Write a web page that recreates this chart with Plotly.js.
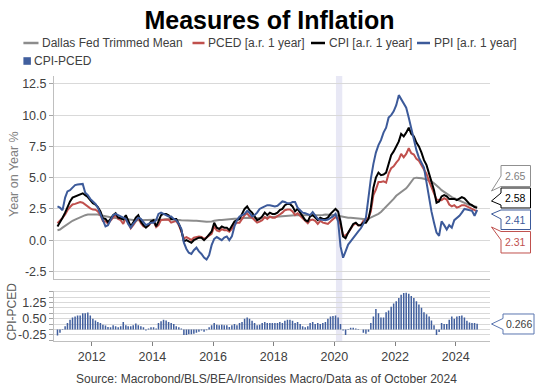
<!DOCTYPE html>
<html>
<head>
<meta charset="utf-8">
<script src="https://cdn.plot.ly/plotly-3.0.1.min.js"></script>
<style>
html,body{margin:0;padding:0;background:#ffffff;}
#chart{width:539px;height:386px;}
</style>
</head>
<body>
<div id="chart"></div>
<script>
// ---------------- DATA (monthly, Nov 2010 .. Sep 2024) ----------------
const firstYear = 2010;
const firstMonth = 11; // November

const dallas = [
  0.8, 0.85,
  1.0, 1.15, 1.25, 1.4, 1.55, 1.65, 1.75, 1.85, 1.95, 2.0, 2.05, 2.05,
  2.08, 2.08, 2.05, 2.0, 1.95, 1.9, 1.85, 1.82, 1.8, 1.78, 1.75, 1.72,
  1.7, 1.68, 1.65, 1.62, 1.6, 1.6, 1.6, 1.6, 1.6, 1.6, 1.6, 1.6,
  1.6, 1.6, 1.62, 1.65, 1.65, 1.68, 1.68, 1.65, 1.65, 1.65, 1.62, 1.6,
  1.58, 1.58, 1.56, 1.56, 1.55, 1.55, 1.55, 1.52, 1.5, 1.48, 1.48, 1.5,
  1.55, 1.6, 1.62, 1.62, 1.65, 1.65, 1.68, 1.7, 1.72, 1.72, 1.75, 1.75,
  1.78, 1.8, 1.78, 1.75, 1.75, 1.75, 1.78, 1.8, 1.82, 1.82, 1.85, 1.85,
  1.88, 1.9, 1.92, 1.92, 1.95, 1.98, 2.0, 2.0, 2.0, 2.0, 2.0, 2.0,
  1.98, 1.98, 1.98, 2.0, 2.0, 2.0, 2.02, 2.02, 2.05, 2.05, 2.05, 2.05,
  2.0, 1.95, 1.9, 1.85, 1.85, 1.8, 1.8, 1.78, 1.75, 1.72, 1.7, 1.68,
  1.68, 1.72, 1.8, 1.9, 2.0, 2.1, 2.25, 2.45, 2.65, 2.9, 3.1, 3.3,
  3.55, 3.7, 3.85, 3.95, 4.15, 4.4, 4.7, 4.95, 5.0, 5.0, 4.95, 4.9,
  4.85, 4.8, 4.7, 4.55, 4.4, 4.2, 4.0, 3.85, 3.7, 3.55, 3.45, 3.35,
  3.25, 3.15, 3.05, 3.0, 2.9, 2.8, 2.75, 2.7, 2.65
];

const pced = [
  1.35, 1.55,
  1.78, 2.05, 2.4, 2.65, 2.85, 2.9, 2.95, 3.05, 3.0, 2.85, 2.67, 2.55,
  2.45, 2.43, 2.3, 2.0, 1.53, 1.52, 1.33, 1.6, 1.8, 2.0, 1.7, 1.6,
  1.3, 1.8, 1.35, 0.95, 1.2, 1.52, 1.8, 1.35, 1.1, 1.05, 1.15, 1.4,
  1.5, 1.05, 1.2, 1.62, 1.65, 1.68, 1.65, 1.4, 1.45, 1.55, 1.2, 0.75,
  0.15, 0.25, 0.12, 0.02, 0.2, 0.25, 0.3, 0.25, 0.1, 0.23, 0.4, 0.5,
  1.1, 0.78, 0.7, 0.88, 0.8, 0.8, 0.68, 0.9, 1.25, 1.4, 1.4, 1.75,
  2.0, 2.15, 1.9, 1.8, 1.6, 1.4, 1.48, 1.6, 1.85, 1.7, 1.9, 1.8,
  1.8, 1.9, 2.05, 2.2, 2.4, 2.45, 2.45, 2.3, 2.0, 2.15, 1.95, 1.75,
  1.5, 1.35, 1.6, 1.65, 1.55, 1.3, 1.55, 1.4, 1.35, 1.3, 1.5, 1.68,
  1.85, 1.75, 1.25, 0.35, 0.4, 0.58, 0.92, 1.22, 1.35, 1.18, 1.2, 1.55,
  1.6, 1.8, 2.3, 3.6, 4.05, 4.65, 4.65, 4.7, 4.6, 5.32, 5.75, 5.9,
  6.2, 6.45, 6.9, 6.62, 6.9, 7.35, 6.95, 6.85, 6.5, 6.35, 6.0, 5.6,
  5.3, 4.7, 4.28, 3.8, 3.25, 3.22, 3.2, 3.35, 3.25, 2.85, 2.7, 2.8,
  2.6, 2.68, 2.8, 2.8, 2.7, 2.58, 2.5, 2.35, 2.31
];

const cpi = [
  1.1, 1.4,
  1.8, 2.2, 2.7, 3.1, 3.4, 3.5, 3.6, 3.7, 3.75, 3.6, 3.45, 3.2,
  2.95, 2.85, 2.65, 2.3, 1.75, 1.7, 1.45, 1.7, 2.0, 2.15, 1.8, 1.75,
  1.65, 2.0, 1.5, 1.1, 1.4, 1.8, 2.0, 1.5, 1.2, 1.0, 1.2, 1.5,
  1.6, 1.1, 1.5, 2.0, 2.1, 2.1, 2.0, 1.7, 1.7, 1.7, 1.3, 0.8,
  -0.1, 0.0, -0.1, -0.2, 0.0, 0.1, 0.2, 0.2, 0.0, 0.2, 0.5, 0.7,
  1.4, 1.0, 0.9, 1.1, 1.0, 1.0, 0.8, 1.1, 1.5, 1.6, 1.7, 2.1,
  2.5, 2.7, 2.4, 2.2, 1.9, 1.6, 1.7, 1.9, 2.2, 2.0, 2.2, 2.1,
  2.1, 2.2, 2.4, 2.5, 2.8, 2.9, 2.9, 2.7, 2.3, 2.5, 2.2, 1.9,
  1.6, 1.5, 1.9, 2.0, 1.8, 1.6, 1.8, 1.7, 1.7, 1.8, 2.1, 2.3,
  2.5, 2.3, 1.5, 0.3, 0.15, 0.6, 1.0, 1.3, 1.4, 1.2, 1.2, 1.4,
  1.4, 1.7, 2.6, 4.2, 5.0, 5.4, 5.2, 5.25, 5.4, 6.2, 6.8, 7.1,
  7.5, 7.9, 8.5, 8.3, 8.6, 9.0, 8.5, 8.3, 7.8, 7.5, 7.0, 6.4,
  6.0, 5.3, 4.7, 4.0, 3.0, 3.1, 3.5, 3.6, 3.5, 3.3, 3.3, 3.3,
  3.2, 3.3, 3.45, 3.35, 3.1, 2.9, 2.8, 2.65, 2.58
];

const ppi = [
  2.7, 2.6,
  2.4, 3.4, 3.9, 4.0, 4.2, 4.4, 4.45, 4.45, 4.5, 3.8, 3.6, 3.3,
  3.1, 2.9, 2.6, 2.0, 1.6, 1.1, 1.2, 1.6, 2.0, 2.1, 2.0, 1.9,
  1.8, 1.7, 1.3, 1.0, 1.3, 1.6, 1.8, 1.7, 1.4, 1.2, 1.3, 1.4,
  1.4, 1.6, 2.1, 2.2, 2.1, 2.0, 1.9, 1.9, 1.7, 1.6, 1.3, 0.9,
  -0.2, -0.7, -1.0, -1.1, -0.8, -0.6, -0.9, -1.1, -1.4, -1.55, -1.2, -0.4,
  0.1, 0.25, 0.15, 0.0, 0.2, 0.3, 0.0, 0.3, 1.1, 1.6, 1.9, 2.0,
  2.1, 2.35, 2.2, 1.9, 2.0, 2.2, 2.5, 2.6, 2.7, 2.8, 2.8, 2.75,
  2.7, 2.75, 2.9, 3.1, 3.05, 2.95, 2.95, 3.05, 3.05, 2.6, 2.4, 2.2,
  2.15, 2.05, 2.0, 2.25, 2.0, 1.7, 1.65, 1.6, 1.6, 1.65, 1.75, 1.9,
  2.1, 1.5, -0.5, -1.4, -0.9, -0.35, -0.1, 0.2, 0.4, 0.7, 0.95, 1.3,
  1.8, 3.5, 4.9, 6.1, 7.0, 7.6, 8.0, 8.6, 9.0, 9.8, 10.0, 10.3,
  10.8, 11.6, 11.3, 11.0, 10.6, 9.8, 8.9, 8.2, 7.2, 6.6, 6.2, 5.8,
  4.6, 3.2, 2.3, 1.4, 0.6, 0.35, 1.5, 1.2, 0.85, 1.2, 1.0, 1.6,
  1.75, 1.95, 2.2, 2.5, 2.45, 2.4, 2.35, 1.95, 2.41
];

const cpiPced = [
  -0.28, -0.15,
  0.02, 0.15, 0.3, 0.45, 0.55, 0.6, 0.65, 0.65, 0.75, 0.75, 0.78, 0.65,
  0.5, 0.42, 0.35, 0.3, 0.22, 0.18, 0.12, 0.1, 0.2, 0.15, 0.1, 0.15,
  0.35, 0.2, 0.15, 0.15, 0.2, 0.28, 0.2, 0.15, 0.1, -0.05, 0.05, 0.1,
  0.1, 0.05, 0.3, 0.38, 0.45, 0.42, 0.35, 0.3, 0.25, 0.15, 0.1, 0.05,
  -0.25, -0.25, -0.22, -0.22, -0.2, -0.15, -0.1, -0.05, -0.1, -0.03, 0.1, 0.2,
  0.3, 0.22, 0.2, 0.22, 0.2, 0.2, 0.12, 0.2, 0.25, 0.2, 0.3, 0.35,
  0.5, 0.55, 0.5, 0.4, 0.3, 0.2, 0.22, 0.3, 0.35, 0.3, 0.3, 0.3,
  0.3, 0.3, 0.35, 0.3, 0.4, 0.45, 0.45, 0.4, 0.3, 0.35, 0.25, 0.15,
  0.1, 0.15, 0.3, 0.35, 0.25, 0.3, 0.25, 0.3, 0.35, 0.5, 0.6, 0.62,
  0.65, 0.55, 0.25, -0.05, -0.25, 0.02, 0.08, 0.08, 0.05, 0.02, 0.0, -0.15,
  -0.2, -0.1, 0.3, 0.6, 0.95, 0.75, 0.55, 0.55, 0.8, 0.88, 1.05, 1.2,
  1.3, 1.45, 1.6, 1.68, 1.7, 1.65, 1.55, 1.45, 1.3, 1.15, 1.0, 0.8,
  0.7, 0.6, 0.42, 0.2, -0.25, -0.12, 0.3, 0.25, 0.25, 0.45, 0.6, 0.5,
  0.6, 0.62, 0.65, 0.55, 0.4, 0.32, 0.3, 0.3, 0.266
];

const seriesNames = ['Dallas Fed Trimmed Mean', 'PCED [a.r. 1 year]', 'CPI [a.r. 1 year]', 'PPI [a.r. 1 year]'];
const barName = 'CPI-PCED';
const mainTickVals = [-2.5, 0, 2.5, 5, 7.5, 10, 12.5];
const mainTickText = ['-2.5', '0.0', '2.5', '5.0', '7.5', '10.0', '12.5'];
const subTickVals = [-0.25, 0.5, 1.25];
const subTickText = ['-0.25', '0.50', '1.25'];
const recession = ['2020-01-20', '2020-04-05'];

// ---------------- BUILD ----------------
const dates = cpi.map((_, k) => {
  const m = (firstMonth - 1) + k;
  const y = firstYear + Math.floor(m / 12);
  const mm = (m % 12) + 1;
  return y + '-' + String(mm).padStart(2, '0') + '-15';
});

const colors = ['#8c8c8c', '#c0504d', '#000000', '#3c5a9a'];
const barColor = '#415f9e';
const FONT = 'Liberation Sans, Arial, sans-serif';

const W = 539, H = 386, ML = 54, MR = 49, MT = 76, MB = 45;
const PW = W - ML - MR, PH = H - MT - MB;
const X = px => (px - ML) / PW;
const Y = py => (H - MB - py) / PH;

const lineSeries = [dallas, pced, cpi, ppi];
const traces = lineSeries.map((s, k) => ({
  type: 'scatter', mode: 'lines', name: seriesNames[k],
  x: dates, y: s, xaxis: 'x2', yaxis: 'y',
  line: {color: colors[k], width: 2}, hoverinfo: 'skip'
}));
traces.push({
  type: 'bar', name: barName, x: dates, y: cpiPced, xaxis: 'x', yaxis: 'y2',
  marker: {color: barColor, line: {width: 0}}, hoverinfo: 'skip'
});

const shapes = [];
const annotations = [];

// recession band
shapes.push({type: 'rect', xref: 'x', yref: 'paper', x0: recession[0], x1: recession[1],
  y0: 0, y1: 1, fillcolor: '#e8e8f5', line: {width: 0}, layer: 'below'});

// custom legend
const legRow1 = 43, legRow2 = 61;
const legItems = [
  {l0: 23.4, l1: 38.5, tx: 39.5},
  {l0: 192.5, l1: 204.5, tx: 206.2},
  {l0: 311, l1: 325, tx: 327.2},
  {l0: 417, l1: 430, tx: 432.4}
];
legItems.forEach((it, k) => {
  shapes.push({type: 'line', xref: 'paper', yref: 'paper',
    x0: X(it.l0), x1: X(it.l1), y0: Y(legRow1), y1: Y(legRow1),
    line: {color: colors[k], width: 2.5}});
  annotations.push({xref: 'paper', yref: 'paper', x: X(it.tx), y: Y(legRow1),
    xanchor: 'left', yanchor: 'middle', showarrow: false, text: seriesNames[k],
    font: {family: FONT, size: 12, color: '#404040'}});
});
shapes.push({type: 'rect', xref: 'paper', yref: 'paper',
  x0: X(23.4), x1: X(30.9), y0: Y(legRow2 + 3.8), y1: Y(legRow2 - 3.8),
  fillcolor: barColor, line: {width: 0}});
annotations.push({xref: 'paper', yref: 'paper', x: X(31.5), y: Y(legRow2),
  xanchor: 'left', yanchor: 'middle', showarrow: false, text: barName,
  font: {family: FONT, size: 12, color: '#404040'}});

// callouts for last values
function pathOf(pts) {
  return 'M ' + pts.map(p => X(p[0]).toFixed(5) + ',' + Y(p[1]).toFixed(5)).join(' L ') + ' Z';
}
const callouts = [
  {val: dallas[dallas.length - 1].toFixed(2), col: '#909090', txt: '#808080', ty: 176,
   pts: [[501,165.5],[530.5,165.5],[530.5,186.5],[501,186.5],[491.5,191],[501,176]]},
  {val: cpi[cpi.length - 1].toFixed(2), col: '#000000', txt: '#000000', ty: 198,
   pts: [[501,188],[530.5,188],[530.5,208],[501,208],[501,205],[491.5,201],[501,193]]},
  {val: ppi[ppi.length - 1].toFixed(2), col: colors[3], txt: colors[3], ty: 219.7,
   pts: [[501,210],[530.5,210],[530.5,229.5],[501,229.5],[501,219],[491.5,214]]},
  {val: pced[pced.length - 1].toFixed(2), col: colors[1], txt: colors[1], ty: 242,
   pts: [[501,231.5],[530.5,231.5],[530.5,253],[501,253],[501,240],[491.5,227]]},
  {val: cpiPced[cpiPced.length - 1].toFixed(3), col: '#5b76b0', txt: '#404040', ty: 324, tx: 518.5,
   pts: [[503,314],[534,314],[534,334],[503,334],[503,329.5],[491.5,324],[503,318.5]]}
];
callouts.forEach(c => {
  shapes.push({type: 'path', xref: 'paper', yref: 'paper', path: pathOf(c.pts),
    fillcolor: '#ffffff', line: {color: c.col, width: 1}, layer: 'above'});
  annotations.push({xref: 'paper', yref: 'paper', x: X(c.tx || 515.8), y: Y(c.ty),
    xanchor: 'center', yanchor: 'middle', showarrow: false, text: c.val,
    font: {family: FONT, size: 10.5, color: c.txt}});
});

// axis titles & source
annotations.push({xref: 'paper', yref: 'paper', x: X(14), y: Y(174), textangle: -90,
  xanchor: 'center', yanchor: 'middle', showarrow: false, text: 'Year on Year %',
  font: {family: FONT, size: 12.5, color: '#808080'}});
annotations.push({xref: 'paper', yref: 'paper', x: X(11), y: Y(311.5), textangle: -90,
  xanchor: 'center', yanchor: 'middle', showarrow: false, text: 'CPI-PCED',
  font: {family: FONT, size: 12, color: '#595959'}});
annotations.push({xref: 'paper', yref: 'paper', x: X(266), y: Y(378.5),
  xanchor: 'center', yanchor: 'middle', showarrow: false,
  text: 'Source: Macrobond/BLS/BEA/Ironsides Macro/Data as of October 2024',
  font: {family: FONT, size: 12, color: '#404040'}});

const tickFont = {family: FONT, size: 12.5, color: '#404040'};
const layout = {
  width: W, height: H,
  margin: {l: ML, r: MR, t: MT, b: MB, pad: 0},
  paper_bgcolor: '#ffffff', plot_bgcolor: '#ffffff',
  showlegend: false,
  bargap: 0.35,
  font: {family: FONT},
  title: {text: '<b>Measures of Inflation</b>', x: 0.5, xref: 'container', xanchor: 'center',
    y: 1 - 20 / H, yref: 'container', yanchor: 'middle',
    font: {family: FONT, size: 25, color: '#000000'}},
  xaxis: {domain: [0, 1], anchor: 'y2', type: 'date',
    range: ['2010-10-04', '2025-02-17'],
    tickmode: 'linear', tick0: '2012-01-01', dtick: 'M24', tickformat: '%Y',
    ticks: 'outside', ticklen: 4, tickcolor: '#808080', tickwidth: 1,
    showline: true, linecolor: '#bfbfbf', linewidth: 1, showgrid: false, zeroline: false,
    tickfont: tickFont},
  xaxis2: {domain: [0, 1], anchor: 'y', matches: 'x', type: 'date',
    showticklabels: false, ticks: '', showline: true, linecolor: '#bfbfbf', linewidth: 1,
    showgrid: false, zeroline: false},
  yaxis: {domain: [Y(279.3), 1], anchor: 'x2', range: [-3.13, 13.13],
    tickmode: 'array', tickvals: mainTickVals, ticktext: mainTickText,
    ticks: 'outside', ticklen: 4, tickcolor: '#a6a6a6',
    showline: true, linecolor: '#bfbfbf', linewidth: 1,
    showgrid: true, gridcolor: '#d9d9d9', gridwidth: 1, zeroline: false,
    tickfont: tickFont},
  yaxis2: {domain: [0, Y(290.5)], anchor: 'x', range: [-0.53, 1.8],
    tickmode: 'array', tickvals: subTickVals, ticktext: subTickText,
    ticks: 'outside', ticklen: 4, tickcolor: '#a6a6a6',
    minor: {tickmode: 'linear', tick0: 0, dtick: 0.25, showgrid: true, gridcolor: '#d9d9d9',
      ticks: 'outside', ticklen: 4, tickcolor: '#a6a6a6'},
    showline: true, linecolor: '#bfbfbf', linewidth: 1,
    showgrid: true, gridcolor: '#d9d9d9', gridwidth: 1, zeroline: false,
    tickfont: tickFont},
  shapes: shapes,
  annotations: annotations
};

Plotly.newPlot('chart', traces, layout, {displayModeBar: false, staticPlot: true});
</script>
</body>
</html>
